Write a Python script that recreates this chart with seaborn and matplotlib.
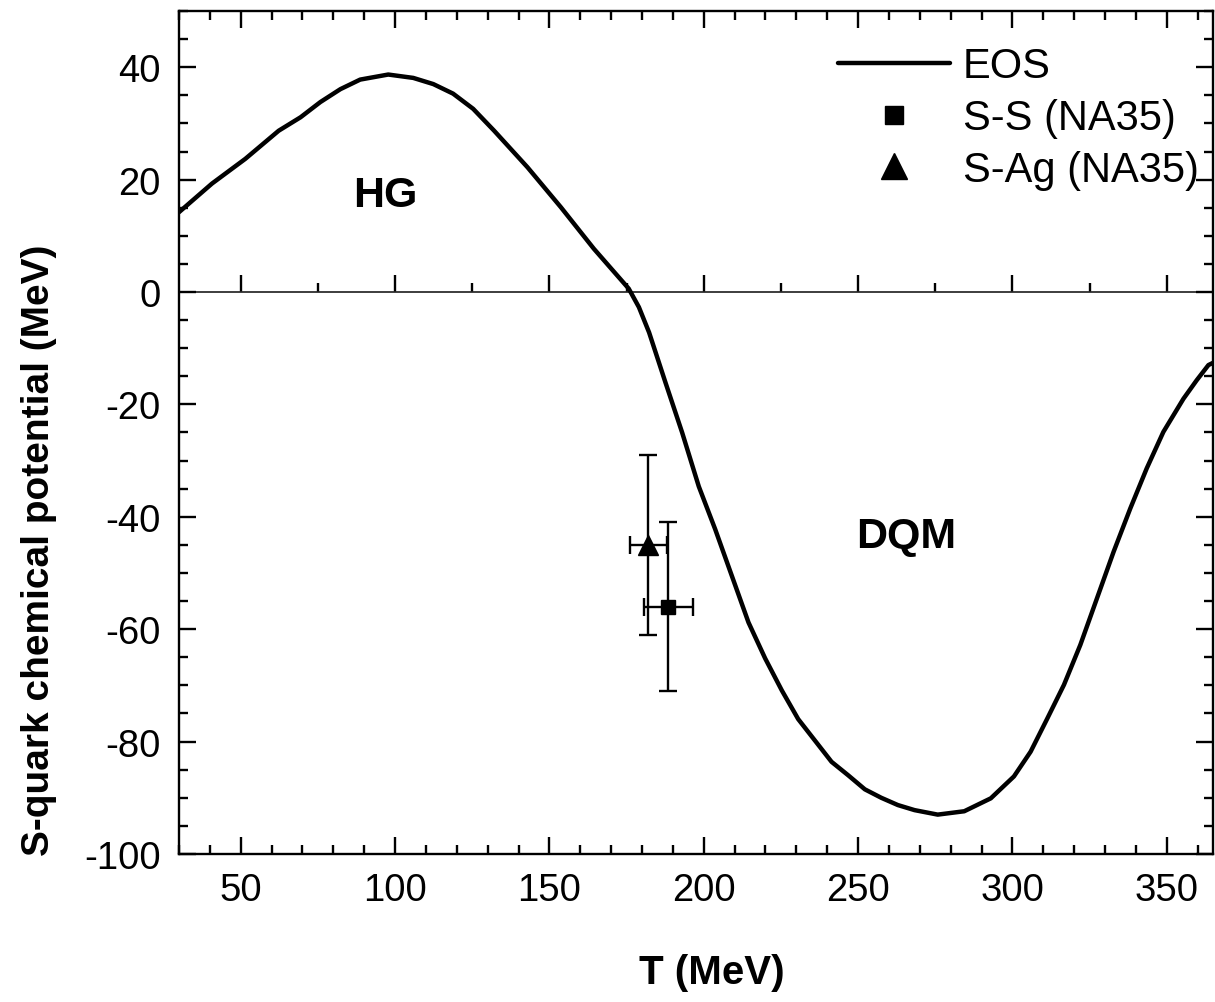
import numpy as np
import pandas as pd
import matplotlib
matplotlib.use("Agg")
import matplotlib.pyplot as plt
from matplotlib.ticker import MultipleLocator
from matplotlib.lines import Line2D
import seaborn as sns

# Equation-of-state curve: strange-quark chemical potential vs temperature
T_eos = [30.0, 40.7, 51.5, 62.3, 69.4, 75.8, 82.3, 88.7, 97.8, 105.9, 112.4,
         118.8, 125.3, 132.1, 142.9, 153.7, 164.4, 175.7, 179.0, 182.3, 187.6,
         193.0, 198.4, 203.7, 209.1, 214.5, 219.9, 225.3, 230.6, 241.4, 246.8,
         252.2, 257.5, 262.9, 268.3, 275.8, 284.4, 293.0, 300.5, 305.9, 311.3,
         316.7, 322.0, 327.4, 332.8, 338.2, 343.5, 348.9, 355.4, 359.7, 363.5,
         365.0]
mu_eos = [14.2, 19.3, 23.7, 28.7, 31.1, 33.8, 36.1, 37.8, 38.7, 38.1, 37.0,
          35.3, 32.6, 28.7, 22.2, 15.1, 7.7, 0.6, -2.7, -7.2, -16.1,
          -25.0, -34.6, -42.2, -50.5, -58.8, -65.2, -70.9, -76.0, -83.6, -86.0,
          -88.5, -90.0, -91.3, -92.2, -93.0, -92.4, -90.1, -86.2, -81.8, -75.9,
          -69.9, -62.8, -54.5, -46.2, -38.5, -31.4, -24.9, -19.0, -15.7, -13.0,
          -12.6]

# NA35 data points (T, mu_s) with errors
ss_T, ss_mu, ss_Terr, ss_muerr = [188.5], [-56.0], [8.0], [15.0]
sag_T, sag_mu, sag_Terr, sag_muerr = [182.0], [-45.0], [6.0], [16.0]

legend_labels = ["EOS", "S-S (NA35)", "S-Ag (NA35)"]
region_labels = ["HG", "DQM"]
region_T = [97.0, 265.5]
region_mu = [17.2, -43.5]

sns.set_theme(style="ticks")
plt.rcParams["font.family"] = ["Liberation Sans", "DejaVu Sans"]
plt.rcParams["axes.unicode_minus"] = False
plt.rcParams["text.color"] = "black"
plt.rcParams["axes.labelcolor"] = "black"

fig = plt.figure(figsize=(12.15, 10.03), dpi=100)
ax = fig.add_axes([0.1473, 0.1476, 0.8511, 0.8404])

eos = pd.DataFrame({"T": T_eos, "mu": mu_eos})
sns.lineplot(data=eos, x="T", y="mu", ax=ax, color="black", lw=3.2,
             sort=False, estimator=None, legend=False)

ax.errorbar(ss_T, ss_mu, xerr=ss_Terr, yerr=ss_muerr, fmt="s", color="black",
            ms=10.5, elinewidth=1.7, capsize=6.5, capthick=1.7, zorder=4)
ax.errorbar(sag_T, sag_mu, xerr=sag_Terr, yerr=sag_muerr, fmt="^", color="black",
            ms=15, elinewidth=1.7, capsize=6.5, capthick=1.7, zorder=5)

ax.set_xlim(30, 365)
ax.set_ylim(-100, 50)

ax.xaxis.set_major_locator(MultipleLocator(50))
ax.xaxis.set_minor_locator(MultipleLocator(10))
ax.yaxis.set_major_locator(MultipleLocator(20))
ax.yaxis.set_minor_locator(MultipleLocator(5))
ax.tick_params(which="both", direction="in", top=True, right=True,
               color="black", width=1.7)
ax.tick_params(which="major", length=12.5, labelsize=27.5, labelcolor="black")
ax.tick_params(which="minor", length=6.5)
ax.tick_params(axis="x", which="major", pad=13)
ax.tick_params(axis="y", which="major", pad=13)
for sp in ax.spines.values():
    sp.set_color("black")
    sp.set_linewidth(1.7)

# Zero line carrying its own downward ticks
zero_ax = ax.secondary_xaxis(0, transform=ax.transData)
zero_ax.spines["top"].set_linewidth(1.7)
zero_ax.spines["top"].set_color("black")
zero_ax.xaxis.set_major_locator(MultipleLocator(50))
zero_ax.xaxis.set_minor_locator(MultipleLocator(25))
zero_ax.tick_params(which="both", direction="in", color="black", width=1.7,
                    labeltop=False, labelbottom=False)
zero_ax.tick_params(which="major", length=12.5)
zero_ax.tick_params(which="minor", length=6.5)

ax.set_xlabel("T (MeV)", fontsize=29, fontweight="bold")
ax.set_ylabel("S-quark chemical potential (MeV)", fontsize=28,
              fontweight="bold")
ax.xaxis.set_label_coords(0.515, -0.118)
ax.yaxis.set_label_coords(-0.118, 0.362)

for lab, tx, my in zip(region_labels, region_T, region_mu):
    ax.text(tx, my, lab, fontsize=31, fontweight="bold", ha="center",
            va="center", color="black")

handles = [
    Line2D([], [], color="black", lw=3.2),
    Line2D([], [], color="black", marker="s", ls="none", ms=13.5),
    Line2D([], [], color="black", marker="^", ls="none", ms=19),
]
ax.legend(handles, legend_labels, loc="upper right",
          bbox_to_anchor=(0.986, 0.958), frameon=False, fontsize=30,
          handlelength=2.7, handletextpad=0.3, labelspacing=0.28,
          borderpad=0, borderaxespad=0)

fig.savefig("out.png", dpi=100)
